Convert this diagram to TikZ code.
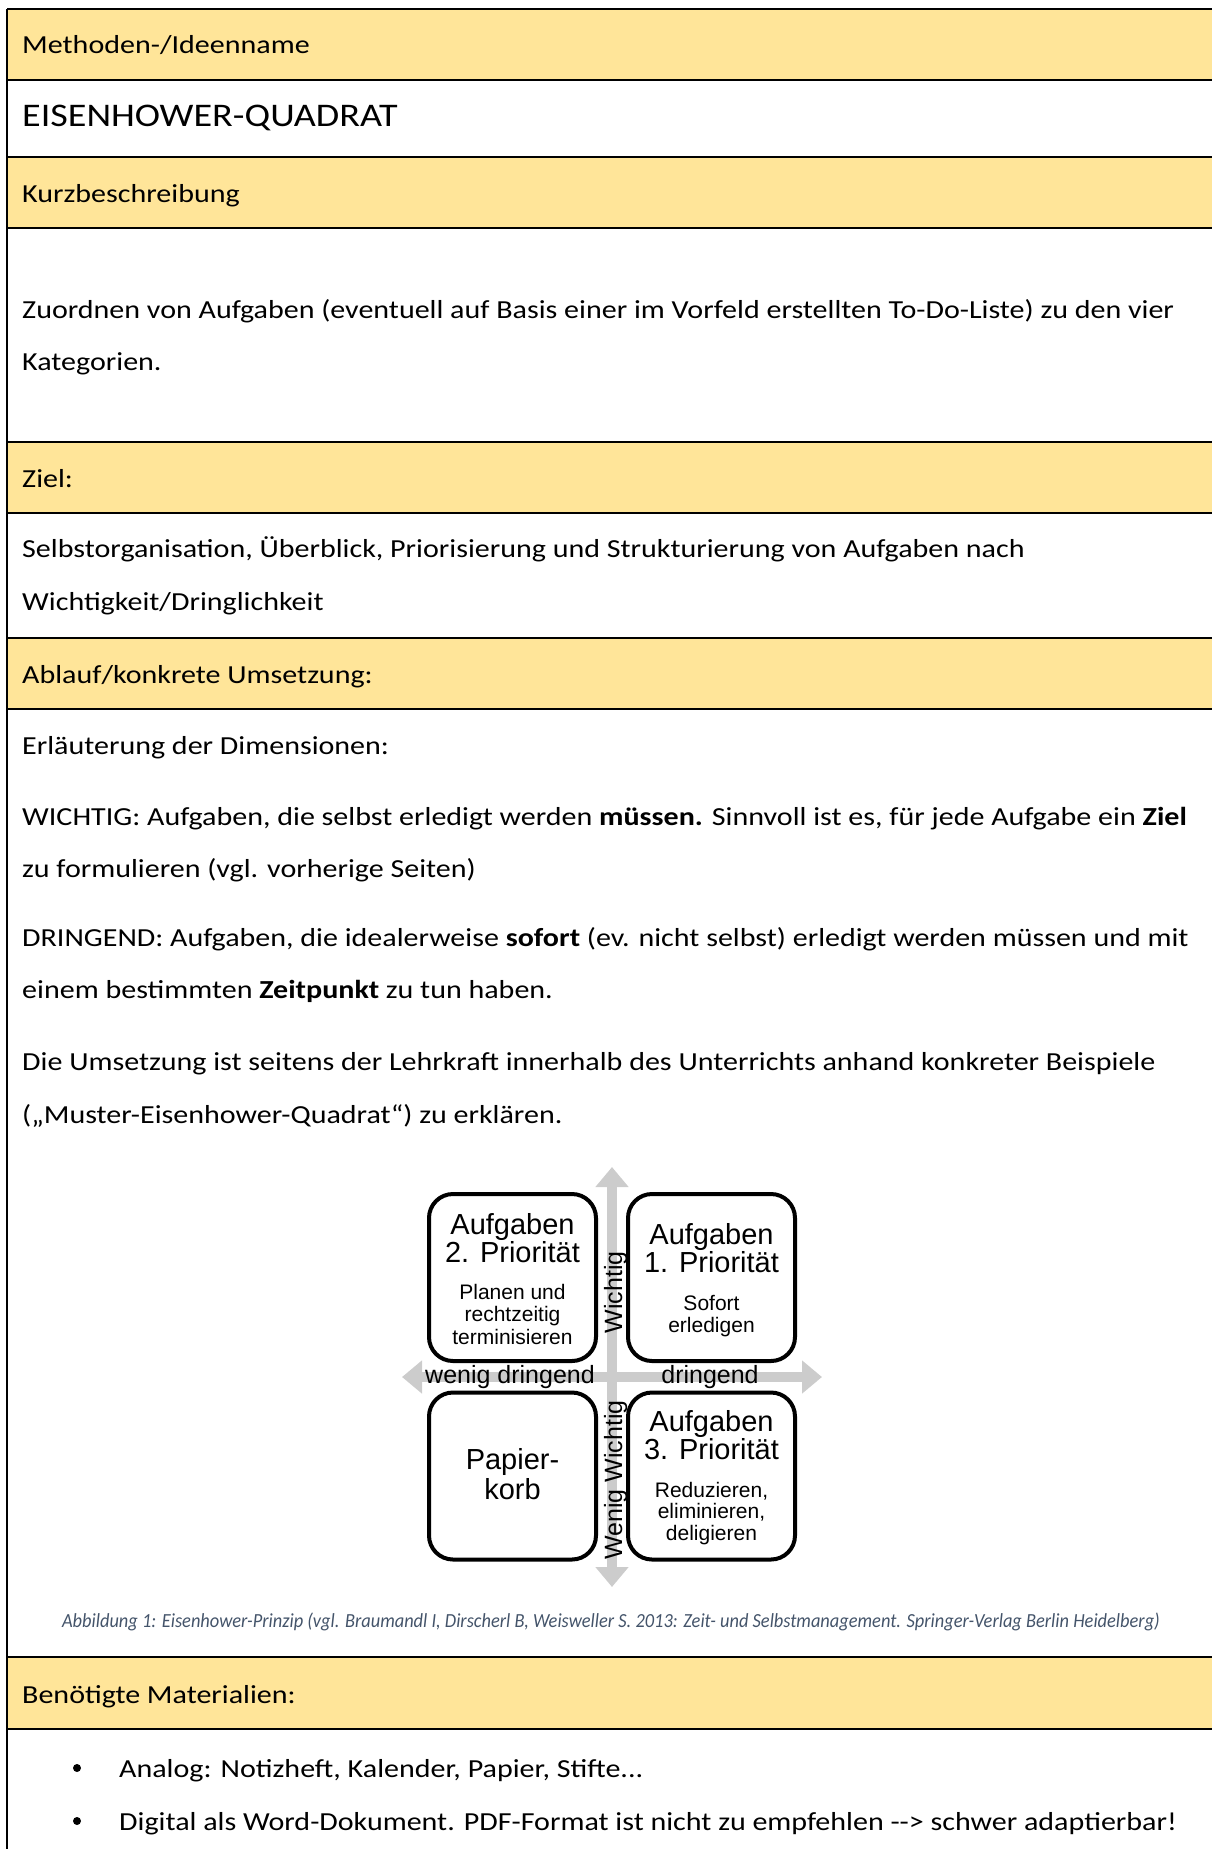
\documentclass[tikz,border=0pt]{standalone}
\usepackage{fontspec}
\setmainfont{Carlito}[FakeStretch=1.155]
\newfontfamily\captionfont{Carlito}[FakeStretch=0.92]
\newfontfamily\arialfont{Liberation Sans}
\usetikzlibrary{arrows.meta}

\definecolor{headyellow}{HTML}{FFE599}
\definecolor{axisgray}{HTML}{CCCCCC}
\definecolor{captiongray}{HTML}{44546A}

\newcommand{\bodysize}{\fontsize{26}{26}\selectfont}

\begin{document}
\begin{tikzpicture}[x=1pt,y=-1pt,
    rowfill/.style={fill=headyellow},
    rule/.style={draw=black, line width=2.2pt},
    body/.style={anchor=base west, inner sep=0pt, font=\bodysize},
    quad/.style={draw=black, line width=4pt, rounded corners=24pt, fill=white,
                 minimum width=167pt, minimum height=167pt, inner sep=0pt},
    ttl/.style={align=center, inner sep=0pt, font=\arialfont\fontsize{29}{28}\selectfont},
    dsc/.style={align=center, inner sep=0pt, font=\arialfont\fontsize{21}{22.5}\selectfont},
    axis/.style={draw=axisgray, line width=10pt,
                 {Triangle[length=20pt,width=32pt]}-{Triangle[length=20pt,width=32pt]}},
    axlabel/.style={anchor=base, inner sep=0pt, font=\arialfont\fontsize{25}{25}\selectfont}]
    \useasboundingbox (0,0) rectangle (1212,1849);

    % yellow header rows and table rules
    \foreach \t/\b in {9/80,157/228,442/513,638/709,1657/1729}
        \fill[rowfill] (7,\t) rectangle (1212,\b);
    \foreach \y in {9,80,157,228,442,513,638,709,1657,1729}
        \draw[rule] (7,\y) -- (1212,\y);
    \draw[rule] (7,9) -- (7,1849);

    % table text
    \node[body] (methode) at (22,54) {Methoden-/Ideenname};
    \node[body, font=\fontsize{33}{33}\selectfont] (titel) at (22,127) {EISENHOWER-QUADRAT};
    \node[body] (kurz) at (22,202) {Kurzbeschreibung};
    \node[body] (kurz1) at (22,318) {Zuordnen von Aufgaben (eventuell auf Basis einer im Vorfeld erstellten To-Do-Liste) zu den vier};
    \node[body] (kurz2) at (22,370) {Kategorien.};
    \node[body] (ziel) at (22,487) {Ziel:};
    \node[body] (ziel1) at (22,557) {Selbstorganisation, Überblick, Priorisierung und Strukturierung von Aufgaben nach};
    \node[body] (ziel2) at (22,610) {Wichtigkeit/Dringlichkeit};
    \node[body] (ablauf) at (22,683) {Ablauf/konkrete Umsetzung:};
    \node[body] (dim) at (22,754) {Erläuterung der Dimensionen:};
    \node[body] (wichtig1) at (22,825) {WICHTIG: Aufgaben, die selbst erledigt werden \textbf{müssen.} Sinnvoll ist es, für jede Aufgabe ein \textbf{Ziel}};
    \node[body] (wichtig2) at (22,877) {zu formulieren (vgl. vorherige Seiten)};
    \node[body] (dringend1) at (22,946) {DRINGEND: Aufgaben, die idealerweise \textbf{sofort} (ev. nicht selbst) erledigt werden müssen und mit};
    \node[body] (dringend2) at (22,998) {einem bestimmten \textbf{Zeitpunkt} zu tun haben.};
    \node[body] (umsetz1) at (22,1070) {Die Umsetzung ist seitens der Lehrkraft innerhalb des Unterrichts anhand konkreter Beispiele};
    \node[body] (umsetz2) at (22,1123) {(„Muster-Eisenhower-Quadrat“) zu erklären.};

    % Eisenhower diagram
    \coordinate (oben) at (612,1167);
    \coordinate (unten) at (612,1587);
    \coordinate (links) at (402,1377);
    \coordinate (rechts) at (822,1377);
    \draw[axis] (unten) -- (oben);
    \draw[axis] (links) -- (rechts);

    \node[quad] (q2) at (512.5,1277.5) {};
    \node[quad] (q1) at (711.5,1277.5) {};
    \node[quad] (q4) at (512.5,1476) {};
    \node[quad] (q3) at (711.5,1476) {};

    \node[ttl] (q2ttl) at (512.5,1238.5) {Aufgaben\\2. Priorität};
    \node[dsc] (q2dsc) at (512.5,1314) {Planen und\\rechtzeitig\\terminisieren};
    \node[ttl] (q1ttl) at (711.5,1248.5) {Aufgaben\\1. Priorität};
    \node[dsc] (q1dsc) at (711.5,1316) {Sofort\\erledigen};
    \node[ttl, font=\arialfont\fontsize{29}{30}\selectfont] (q4ttl) at (512.5,1474.5) {Papier-\\korb};
    \node[ttl] (q3ttl) at (711.5,1435.5) {Aufgaben\\3. Priorität};
    \node[dsc, font=\arialfont\fontsize{21}{21.5}\selectfont] (q3dsc) at (711.5,1513.5) {Reduzieren,\\eliminieren,\\deligieren};

    \node[axlabel] (wenigdr) at (510,1383) {wenig dringend};
    \node[axlabel] (dring) at (710,1383) {dringend};
    \node[axlabel, rotate=90] (wicht) at (622,1292.5) {Wichtig};
    \node[axlabel, rotate=90] (wenigw) at (622,1480) {Wenig Wichtig};

    \node[anchor=base, inner sep=0pt, text=captiongray, font=\captionfont\itshape\fontsize{20}{20}\selectfont] (caption) at (611,1627)
        {Abbildung 1: Eisenhower-Prinzip (vgl. Braumandl I, Dirscherl B, Weisweller S. 2013: Zeit- und Selbstmanagement. Springer-Verlag Berlin Heidelberg)};

    % materials
    \node[body] (mat) at (22,1703) {Benötigte Materialien:};
    \fill (77,1768) circle (4);
    \fill (77,1821) circle (4);
    \node[body] (mat1) at (119,1777) {Analog: Notizheft, Kalender, Papier, Stifte...};
    \node[body] (mat2) at (119,1830) {Digital als Word-Dokument. PDF-Format ist nicht zu empfehlen -{}-> schwer adaptierbar!};
\end{tikzpicture}
\end{document}
